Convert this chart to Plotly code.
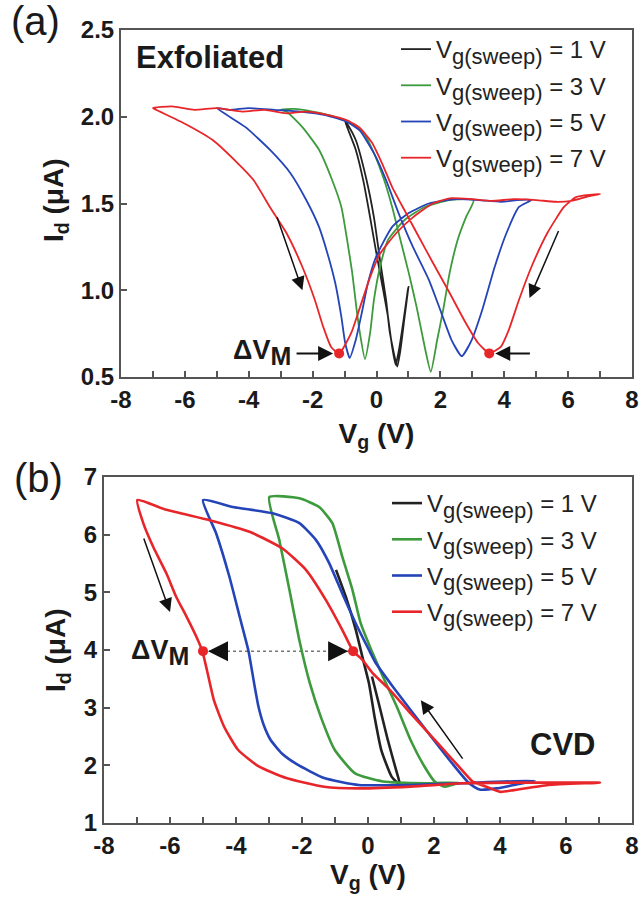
import plotly.graph_objects as go

# ---------------- DATA ----------------
# Panel (a) exfoliated: Id (uA) vs Vg (V), full sweep loops
a_red_x = [-7.0, -6.9, -6.0, -5.13, -4.35, -3.85, -3.34, -2.82, -2.32, -1.93, -1.67, -1.42, -1.17, -0.79, -0.52, -0.2, 0.11, 0.62, 1.14, 1.76, 2.29, 3.0, 3.6, 4.3, 5.0, 5.6, 6.1, 6.6, 7.0,
           6.25, 5.87, 5.35, 4.85, 4.46, 4.14, 3.89, 3.53, 3.18, 2.8, 2.29, 1.77, 1.26, 0.88, 0.49, 0.17, -0.14, -0.52, -0.92, -1.5, -2.2, -2.82, -3.5, -4.2, -5.0, -5.7, -6.4, -7.0]
a_red_y = [2.05, 2.04, 1.96, 1.866, 1.733, 1.635, 1.48, 1.33, 1.134, 0.944, 0.79, 0.673, 0.635, 0.754, 0.90, 1.076, 1.21, 1.33, 1.42, 1.50, 1.53, 1.525, 1.515, 1.525, 1.52, 1.51, 1.515, 1.54, 1.555,
           1.537, 1.48, 1.33, 1.134, 0.944, 0.77, 0.673, 0.638, 0.696, 0.81, 0.984, 1.157, 1.33, 1.46, 1.595, 1.733, 1.85, 1.935, 1.98, 2.01, 2.03, 2.02, 2.04, 2.03, 2.05, 2.04, 2.06, 2.05]

a_blue_x = [-5.0, -4.1, -3.34, -2.7, -2.2, -1.8, -1.54, -1.29, -1.1, -0.98, -0.84, -0.65, -0.46, -0.27, -0.02, 0.49, 1.01, 1.64, 2.5, 3.2, 3.9, 4.4, 4.85,
            4.46, 4.07, 3.7, 3.31, 2.98, 2.67, 2.35, 2.03, 1.64, 1.14, 0.69, 0.3, -0.08, -0.52, -0.92, -1.6, -2.4, -3.2, -4.0, -4.6, -5.0]
a_blue_y = [2.05, 1.94, 1.81, 1.676, 1.52, 1.365, 1.215, 1.04, 0.846, 0.696, 0.61, 0.713, 0.87, 1.04, 1.19, 1.365, 1.445, 1.50, 1.525, 1.52, 1.51, 1.52, 1.52,
            1.48, 1.33, 1.134, 0.886, 0.713, 0.62, 0.713, 0.87, 1.06, 1.25, 1.445, 1.635, 1.79, 1.92, 1.97, 2.01, 2.03, 2.04, 2.05, 2.04, 2.05]

a_green_x = [-3.0, -2.82, -2.32, -1.8, -1.42, -1.1, -0.92, -0.76, -0.63, -0.52, -0.36, -0.2, -0.08, 0.11, 0.36, 0.88, 1.51, 2.29, 3.04,
             2.8, 2.54, 2.29, 2.1, 1.9, 1.7, 1.51, 1.26, 1.01, 0.75, 0.49, 0.24, -0.08, -0.4, -0.79, -1.3, -2.0, -2.6, -3.0]
a_green_y = [2.04, 2.03, 1.94, 1.81, 1.65, 1.48, 1.29, 1.10, 0.90, 0.754, 0.603, 0.754, 0.944, 1.134, 1.29, 1.405, 1.48, 1.52, 1.52,
             1.42, 1.29, 1.10, 0.90, 0.713, 0.53, 0.673, 0.90, 1.10, 1.29, 1.48, 1.635, 1.79, 1.906, 1.96, 2.0, 2.03, 2.045, 2.04]

a_black_x = [-1.0, -0.65, -0.4, -0.2, -0.02, 0.17, 0.36, 0.49, 0.6, 0.72, 0.85, 0.98, 1.0,
             0.88, 0.75, 0.65, 0.42, 0.3, 0.11, -0.08, -0.33, -0.65, -0.92, -1.0]
a_black_y = [1.98, 1.81, 1.62, 1.42, 1.23, 1.04, 0.846, 0.673, 0.57, 0.673, 0.83, 1.0, 1.02,
             0.846, 0.656, 0.56, 0.754, 0.944, 1.174, 1.42, 1.65, 1.866, 1.96, 1.98]

a_dot_x = [-1.17, 3.53]
a_dot_y = [0.636, 0.636]

# Panel (b) CVD
b_red_x = [-6.99, -6.81, -6.51, -6.11, -5.81, -5.5, -5.2, -5.02, -4.88, -4.67, -4.36, -3.94, -3.31, -2.48, -1.33, -0.28, 1.29, 2.86, 4.42, 5.8, 7.03,
           5.46, 4.42, 4.01, 3.59, 3.17, 2.75, 2.12, 1.29, 0.66, 0.14, -0.17, -0.45, -0.78, -1.28, -1.88, -2.59, -3.59, -4.8, -6.11, -6.99]
b_red_y = [6.6, 6.2, 5.79, 5.33, 4.92, 4.58, 4.23, 3.98, 3.65, 3.13, 2.67, 2.27, 1.98, 1.78, 1.63, 1.60, 1.63, 1.69, 1.70, 1.70, 1.70,
           1.66, 1.57, 1.54, 1.63, 1.72, 1.98, 2.38, 2.9, 3.31, 3.6, 3.83, 3.98, 4.35, 4.87, 5.39, 5.76, 6.05, 6.25, 6.43, 6.6]

b_blue_x = [-5.0, -4.6, -4.2, -3.89, -3.62, -3.45, -3.32, -3.16, -2.95, -2.6, -2.16, -1.33, -0.28, 1.29, 2.86, 5.05,
            4.42, 3.9, 3.38, 3.06, 2.54, 1.91, 1.29, 0.76, 0.24, 0.03, -0.37, -0.78, -1.18, -1.58, -2.08, -2.89, -4.1, -5.0]
b_blue_y = [6.6, 6.02, 5.27, 4.58, 3.98, 3.42, 3.02, 2.7, 2.44, 2.2, 2.02, 1.78, 1.66, 1.66, 1.69, 1.73,
            1.66, 1.60, 1.58, 1.69, 2.04, 2.5, 2.96, 3.36, 3.77, 4.0, 4.46, 4.98, 5.51, 5.91, 6.2, 6.37, 6.48, 6.6]

b_green_x = [-2.99, -2.69, -2.38, -2.08, -1.76, -1.43, -1.01, -0.39, 0.45, 1.81, 2.75,
             2.33, 2.02, 1.71, 1.29, 0.87, 0.45, 0.1, -0.22, -0.47, -0.78, -1.08, -1.48, -2.08, -2.99]
b_green_y = [6.65, 5.91, 5.04, 4.17, 3.42, 2.84, 2.27, 1.86, 1.72, 1.69, 1.70,
             1.63, 1.72, 1.98, 2.44, 3.02, 3.54, 4.0, 4.46, 5.04, 5.62, 6.2, 6.48, 6.63, 6.65]

b_black_x = [-0.97, -0.67, -0.37, -0.17, 0.03, 0.2, 0.4, 0.72, 0.97, 0.85, 0.6, 0.35, 0.12]
b_black_y = [5.39, 4.92, 4.35, 3.88, 3.42, 2.84, 2.27, 1.80, 1.66, 1.92, 2.44, 3.02, 3.54]

b_dot_x = [-5.0, -0.45]
b_dot_y = [3.98, 3.98]

sweep_labels = ["1 V", "3 V", "5 V", "7 V"]
colors = ["#222222", "#3d9a3d", "#2444b8", "#e8262a"]

x_tickvals = [-8, -6, -4, -2, 0, 2, 4, 6, 8]
x_ticktext = ["-8", "-6", "-4", "-2", "0", "2", "4", "6", "8"]
a_y_tickvals = [0.5, 1.0, 1.5, 2.0, 2.5]
a_y_ticktext = ["0.5", "1.0", "1.5", "2.0", "2.5"]
b_y_tickvals = [1, 2, 3, 4, 5, 6, 7]
b_y_ticktext = ["1", "2", "3", "4", "5", "6", "7"]

# annotation anchor points (data units)
a_arrow_left = (-3.13, 1.43, -2.32, 1.0)     # tail x, tail y, head x, head y
a_arrow_right = (5.72, 1.35, 4.79, 0.955)
b_arrow_left = (-6.81, 5.96, -6.0, 4.66)
b_arrow_right = (2.9, 2.09, 1.6, 3.13)
a_dvm_text = (-3.6, 0.64)
b_dvm_text = (-6.3, 3.95)
a_label_pos = (-5.2, 2.34)
b_label_pos = (5.9, 2.36)

FONT = "Liberation Sans, Arial, sans-serif"

fig = go.Figure()

a_sets = [(a_black_x, a_black_y), (a_green_x, a_green_y), (a_blue_x, a_blue_y), (a_red_x, a_red_y)]
b_sets = [(b_black_x, b_black_y), (b_green_x, b_green_y), (b_blue_x, b_blue_y), (b_red_x, b_red_y)]

def lab(s):
    return ("V<sub><span style=\"font-size:22px\">g(sweep)</span></sub> = " + s)

for i, (xs, ys) in enumerate(a_sets):
    fig.add_trace(go.Scatter(x=xs, y=ys, mode="lines", xaxis="x", yaxis="y",
                             line=dict(color=colors[i], width=1.8, shape="spline", smoothing=0.5),
                             name=lab(sweep_labels[i]), legend="legend", legendgroup="a%d" % i))
for i, (xs, ys) in enumerate(b_sets):
    fig.add_trace(go.Scatter(x=xs, y=ys, mode="lines", xaxis="x2", yaxis="y2",
                             line=dict(color=colors[i], width=2.6, shape="spline", smoothing=0.5),
                             name=lab(sweep_labels[i]), legend="legend2", legendgroup="b%d" % i))

fig.add_trace(go.Scatter(x=a_dot_x, y=a_dot_y, mode="markers", xaxis="x", yaxis="y",
                         marker=dict(color="#e8262a", size=10), showlegend=False))
fig.add_trace(go.Scatter(x=b_dot_x, y=b_dot_y, mode="markers", xaxis="x2", yaxis="y2",
                         marker=dict(color="#e8262a", size=10), showlegend=False))

axis_common = dict(showline=True, linecolor="#555555", linewidth=2, mirror=True,
                   ticks="inside", ticklen=6, tickwidth=1.5, tickcolor="#555555",
                   showgrid=False, zeroline=False, automargin=False,
                   tickfont=dict(family=FONT, size=24, color="#1a1a1a", weight="bold"))
title_font = dict(family=FONT, size=28, color="#1a1a1a", weight="bold")

fig.update_layout(
    width=643, height=898, autosize=False,
    margin=dict(l=0, r=0, t=0, b=0, pad=0, autoexpand=False),
    paper_bgcolor="white", plot_bgcolor="white",
    xaxis=dict(domain=[121/643, 632/643], anchor="y", range=[-8, 8],
               tickvals=x_tickvals, ticktext=x_ticktext,
               minor=dict(ticks="inside", dtick=1, ticklen=6, tickwidth=1.5, tickcolor="#555555", showgrid=False),
               title=dict(text="V<sub>g</sub> (V)", font=title_font, standoff=12),
               **axis_common),
    yaxis=dict(domain=[(898-377)/898, (898-30)/898], anchor="x", range=[0.5, 2.5],
               tickvals=a_y_tickvals, ticktext=a_y_ticktext, **axis_common),
    xaxis2=dict(domain=[104/643, 632/643], anchor="y2", range=[-8, 8],
                tickvals=x_tickvals, ticktext=x_ticktext,
                minor=dict(ticks="inside", dtick=1, ticklen=6, tickwidth=1.5, tickcolor="#555555", showgrid=False),
                title=dict(text="V<sub>g</sub> (V)", font=title_font, standoff=4),
                **axis_common),
    yaxis2=dict(domain=[(898-823)/898, (898-477)/898], anchor="x2", range=[1, 7],
                tickvals=b_y_tickvals, ticktext=b_y_ticktext, **axis_common),
    legend=dict(x=396/643, y=1 - 27/898, xanchor="left", yanchor="top", bgcolor="rgba(0,0,0,0)",
                font=dict(family=FONT, size=24, color="#222222"), tracegroupgap=2, itemwidth=30),
    legend2=dict(x=387/643, y=1 - 481/898, xanchor="left", yanchor="top", bgcolor="rgba(0,0,0,0)",
                 font=dict(family=FONT, size=24, color="#222222"), tracegroupgap=2, itemwidth=30),
)

# y-axis titles
fig.add_annotation(x=55/643, y=1 - 200/898, xref="paper", yref="paper", xanchor="center", yanchor="middle",
                   textangle=-90, showarrow=False, text="I<sub>d</sub> (μA)", font=title_font)
fig.add_annotation(x=57/643, y=1 - 650/898, xref="paper", yref="paper", xanchor="center", yanchor="middle",
                   textangle=-90, showarrow=False, text="I<sub>d</sub> (μA)", font=title_font)

arrow_kw = dict(showarrow=True, arrowhead=2, arrowsize=1.8, arrowwidth=1.5, arrowcolor="#111111", text="")
for (tx, ty, hx, hy), xr, yr in [(a_arrow_left, "x", "y"), (a_arrow_right, "x", "y"),
                                 (b_arrow_left, "x2", "y2"), (b_arrow_right, "x2", "y2")]:
    fig.add_annotation(x=hx, y=hy, ax=tx, ay=ty, xref=xr, yref=yr, axref=xr, ayref=yr, **arrow_kw)

# Delta V_M markers panel (a)
fig.add_annotation(x=a_dot_x[0], y=a_dot_y[0], ax=-2.55, ay=a_dot_y[0], xref="x", yref="y", axref="x", ayref="y",
                   showarrow=True, arrowhead=2, arrowsize=1.5, arrowwidth=2, arrowcolor="#111111", standoff=6, text="")
fig.add_annotation(x=a_dot_x[1], y=a_dot_y[1], ax=4.85, ay=a_dot_y[1], xref="x", yref="y", axref="x", ayref="y",
                   showarrow=True, arrowhead=2, arrowsize=1.5, arrowwidth=2, arrowcolor="#111111", standoff=6, text="")
fig.add_annotation(x=a_dvm_text[0], y=a_dvm_text[1], xref="x", yref="y", showarrow=False,
                   text="ΔV<sub><span style=\"font-size:25px\">M</span></sub>",
                   font=dict(family=FONT, size=27, color="#1a1a1a", weight="bold"))

# Delta V_M panel (b): dotted line and arrowheads
fig.add_shape(type="line", xref="x2", yref="y2", x0=b_dot_x[0], x1=b_dot_x[1], y0=b_dot_y[0], y1=b_dot_y[1],
              line=dict(color="#777777", width=1.5, dash="dot"), layer="below")
fig.add_annotation(x=b_dot_x[0], y=b_dot_y[0], ax=-4.35, ay=b_dot_y[0], xref="x2", yref="y2", axref="x2", ayref="y2",
                   showarrow=True, arrowhead=2, arrowsize=1.6, arrowwidth=2.5, arrowcolor="#111111", standoff=5, text="")
fig.add_annotation(x=b_dot_x[1], y=b_dot_y[1], ax=-1.1, ay=b_dot_y[1], xref="x2", yref="y2", axref="x2", ayref="y2",
                   showarrow=True, arrowhead=2, arrowsize=1.6, arrowwidth=2.5, arrowcolor="#111111", standoff=5, text="")
fig.add_annotation(x=b_dvm_text[0], y=b_dvm_text[1], xref="x2", yref="y2", showarrow=False,
                   text="ΔV<sub><span style=\"font-size:25px\">M</span></sub>",
                   font=dict(family=FONT, size=27, color="#1a1a1a", weight="bold"))

fig.add_annotation(x=a_label_pos[0], y=a_label_pos[1], xref="x", yref="y", showarrow=False, text="Exfoliated",
                   font=dict(family=FONT, size=31, color="#1a1a1a", weight="bold"))
fig.add_annotation(x=b_label_pos[0], y=b_label_pos[1], xref="x2", yref="y2", showarrow=False, text="CVD",
                   font=dict(family=FONT, size=31, color="#1a1a1a", weight="bold"))

fig.add_annotation(x=35/643, y=1 - 21/898, xref="paper", yref="paper", xanchor="center", yanchor="middle",
                   showarrow=False, text="(a)", font=dict(family=FONT, size=40, color="#1a1a1a"))
fig.add_annotation(x=38/643, y=1 - 478/898, xref="paper", yref="paper", xanchor="center", yanchor="middle",
                   showarrow=False, text="(b)", font=dict(family=FONT, size=40, color="#1a1a1a"))

fig.write_html("out.html", config={"displayModeBar": False},
               post_script="document.body.style.margin='0';")
